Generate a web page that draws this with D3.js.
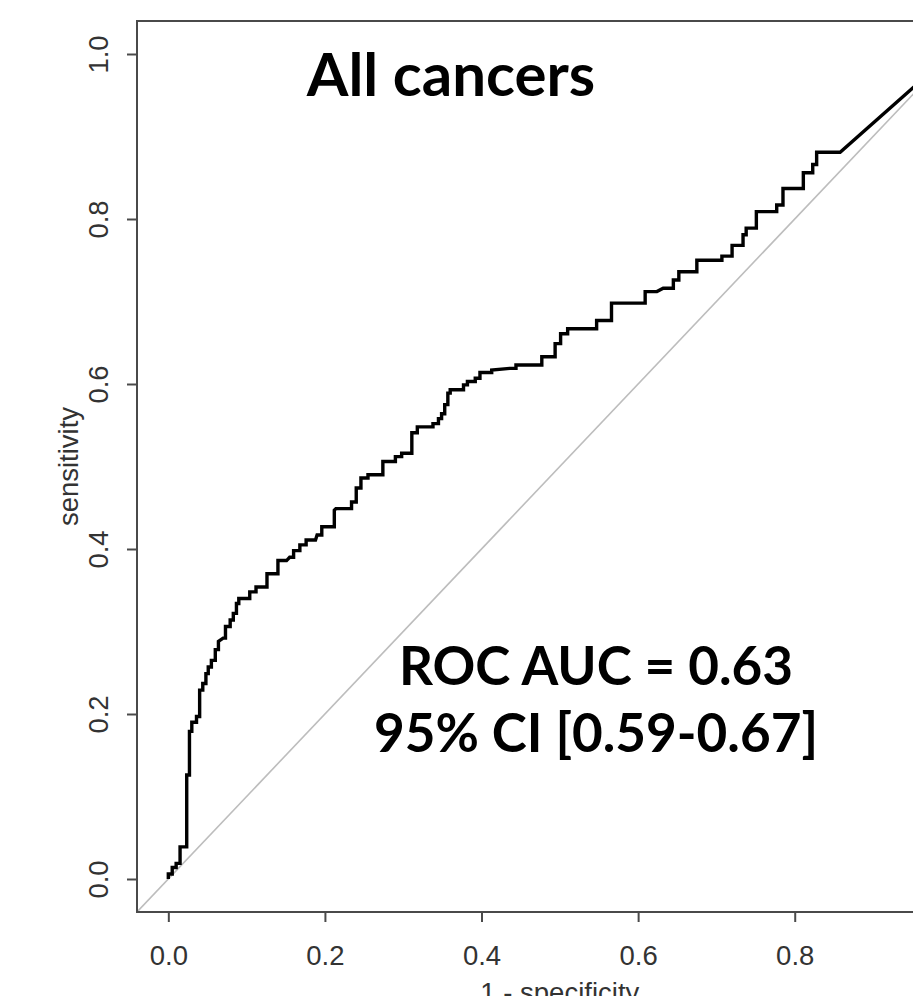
<!DOCTYPE html>
<html>
<head>
<meta charset="utf-8">
<script src="https://cdn.jsdelivr.net/npm/d3@7"></script>
<style>
  body { margin: 0; background: #fff; }
  svg { display: block; }
</style>
</head>
<body>
<div id="chart"></div>
<script>
// ROC curve vertices: 1 - specificity, sensitivity
var fpr = [0.000, 0.000, 0.005, 0.005, 0.010, 0.010, 0.015, 0.015, 0.0235, 0.0235,
  0.027, 0.027, 0.030, 0.030, 0.036, 0.036, 0.040, 0.040, 0.044, 0.044,
  0.048, 0.048, 0.051, 0.051, 0.055, 0.055, 0.060, 0.060, 0.064, 0.064,
  0.070, 0.073, 0.073, 0.079, 0.079, 0.083, 0.083, 0.087, 0.087, 0.090,
  0.090, 0.104, 0.104, 0.112, 0.112, 0.126, 0.126, 0.140, 0.140, 0.151,
  0.155, 0.160, 0.160, 0.168, 0.168, 0.176, 0.176, 0.188, 0.190, 0.196,
  0.196, 0.212, 0.212, 0.214, 0.234, 0.234, 0.240, 0.240, 0.246, 0.246,
  0.255, 0.255, 0.274, 0.274, 0.290, 0.290, 0.298, 0.298, 0.311, 0.311,
  0.318, 0.318, 0.338, 0.338, 0.345, 0.345, 0.349, 0.349, 0.353, 0.353,
  0.357, 0.357, 0.360, 0.360, 0.377, 0.377, 0.382, 0.382, 0.392, 0.392,
  0.398, 0.398, 0.413, 0.413, 0.436, 0.444, 0.444, 0.477, 0.477, 0.494,
  0.494, 0.501, 0.501, 0.510, 0.510, 0.547, 0.547, 0.566, 0.566, 0.609,
  0.609, 0.624, 0.632, 0.645, 0.645, 0.652, 0.652, 0.675, 0.675, 0.707,
  0.707, 0.720, 0.720, 0.734, 0.734, 0.738, 0.738, 0.751, 0.751, 0.777,
  0.777, 0.785, 0.785, 0.811, 0.811, 0.823, 0.823, 0.828, 0.828, 0.858,
  1.000];
var tpr = [0.000, 0.006, 0.006, 0.014, 0.014, 0.019, 0.019, 0.039, 0.039, 0.126,
  0.126, 0.179, 0.179, 0.190, 0.190, 0.197, 0.197, 0.229, 0.229, 0.237,
  0.237, 0.249, 0.249, 0.257, 0.257, 0.265, 0.265, 0.278, 0.278, 0.288,
  0.292, 0.292, 0.306, 0.306, 0.314, 0.314, 0.322, 0.322, 0.334, 0.334,
  0.340, 0.340, 0.348, 0.348, 0.354, 0.354, 0.370, 0.370, 0.386, 0.386,
  0.390, 0.390, 0.398, 0.398, 0.405, 0.405, 0.411, 0.411, 0.417, 0.417,
  0.427, 0.427, 0.447, 0.449, 0.449, 0.457, 0.457, 0.474, 0.474, 0.486,
  0.486, 0.490, 0.490, 0.506, 0.506, 0.512, 0.512, 0.516, 0.516, 0.541,
  0.541, 0.548, 0.548, 0.552, 0.552, 0.558, 0.558, 0.564, 0.564, 0.575,
  0.575, 0.589, 0.589, 0.593, 0.593, 0.599, 0.599, 0.603, 0.603, 0.607,
  0.607, 0.614, 0.614, 0.617, 0.619, 0.619, 0.623, 0.623, 0.633, 0.633,
  0.649, 0.649, 0.661, 0.661, 0.667, 0.667, 0.677, 0.677, 0.698, 0.698,
  0.712, 0.712, 0.716, 0.716, 0.726, 0.726, 0.736, 0.736, 0.750, 0.750,
  0.755, 0.755, 0.768, 0.768, 0.781, 0.781, 0.789, 0.789, 0.809, 0.809,
  0.817, 0.817, 0.837, 0.837, 0.856, 0.856, 0.866, 0.866, 0.881, 0.881,
  1.000];

// the 1.0 tick on the x axis falls outside the cropped picture
var x_ticks = [0.0, 0.2, 0.4, 0.6, 0.8];
var y_ticks = [0.0, 0.2, 0.4, 0.6, 0.8, 1.0];
var title_text = 'All cancers';
var auc_lines = ['ROC AUC = 0.63', '95% CI [0.59-0.67]'];

// setup SVG
var width = 913, height = 996;
var svg = d3.select('#chart').append('svg')
    .attr('width', width).attr('height', height);

// R pads the data range by 4% on each side
var x = d3.scaleLinear().domain([-0.04, 1.04]).range([137, 137 + 1.08 * 783]);
var y = d3.scaleLinear().domain([-0.04, 1.04]).range([912, 912 - 1.08 * 825]);

var axis_font = "'Liberation Sans', Arial, sans-serif";

// clip to plot box
svg.append('clipPath').attr('id', 'plotclip')
  .append('rect')
    .attr('x', x(-0.04)).attr('y', y(1.04))
    .attr('width', x(1.04) - x(-0.04)).attr('height', y(-0.04) - y(1.04));

var plot = svg.append('g').attr('clip-path', 'url(#plotclip)');

// chance diagonal
plot.append('line')
    .attr('x1', x(-0.04)).attr('y1', y(-0.04))
    .attr('x2', x(1.04)).attr('y2', y(1.04))
    .attr('stroke', '#bdbdbd').attr('stroke-width', 1.6);

// roc curve
var pts = fpr.map(function(d, i) { return [d, tpr[i]]; });
var line = d3.line()
    .x(function(d) { return x(d[0]); })
    .y(function(d) { return y(d[1]); });

plot.append('path')
    .datum(pts)
    .attr('d', line)
    .attr('fill', 'none')
    .attr('stroke', '#000')
    .attr('stroke-width', 3.4)
    .attr('stroke-linejoin', 'miter');

// box
svg.append('rect')
    .attr('x', x(-0.04)).attr('y', y(1.04))
    .attr('width', x(1.04) - x(-0.04)).attr('height', y(-0.04) - y(1.04))
    .attr('fill', 'none').attr('stroke', '#4a4a4a').attr('stroke-width', 2);

// x axis
var x_axis = svg.append('g')
    .attr('transform', 'translate(0,' + y(-0.04) + ')')
    .call(d3.axisBottom(x).tickValues(x_ticks).tickSize(10).tickPadding(23)
        .tickFormat(d3.format('.1f')));
x_axis.select('.domain').remove();
x_axis.selectAll('line').attr('stroke', '#4a4a4a').attr('stroke-width', 2);
x_axis.selectAll('text')
    .attr('fill', '#333')
    .attr('font-family', axis_font)
    .attr('font-size', '27.5px');

// y axis, labels turned like R's default las=0
var y_axis = svg.append('g')
    .attr('transform', 'translate(' + x(-0.04) + ',0)')
    .call(d3.axisLeft(y).tickValues(y_ticks).tickSize(10)
        .tickFormat(d3.format('.1f')));
y_axis.select('.domain').remove();
y_axis.selectAll('line').attr('stroke', '#4a4a4a').attr('stroke-width', 2);
y_axis.selectAll('text')
    .attr('x', 0).attr('y', 0).attr('dy', 0)
    .attr('text-anchor', 'middle')
    .attr('transform', 'translate(-29,0) rotate(-90)')
    .attr('fill', '#333')
    .attr('font-family', axis_font)
    .attr('font-size', '27.5px');

// axis titles
svg.append('text')
    .attr('x', (x(-0.04) + x(1.04)) / 2).attr('y', 1002)
    .attr('text-anchor', 'middle')
    .attr('fill', '#333')
    .attr('font-family', axis_font).attr('font-size', '27.5px')
    .text('1 - specificity');

svg.append('text')
    .attr('transform', 'translate(78,' + (y(-0.04) + y(1.04)) / 2 + ') rotate(-90)')
    .attr('text-anchor', 'middle')
    .attr('fill', '#333')
    .attr('font-family', axis_font).attr('font-size', '27.5px')
    .text('sensitivity');

// annotations
var note_font = "Lato, 'Open Sans', sans-serif";
svg.append('text')
    .attr('x', 451).attr('y', 96)
    .attr('text-anchor', 'middle')
    .attr('font-family', note_font).attr('font-weight', 'bold')
    .attr('font-size', '60px').attr('fill', '#000')
    .text(title_text);

svg.selectAll('.auc').data(auc_lines).enter().append('text')
    .attr('class', 'auc')
    .attr('x', 596)
    .attr('y', function(d, i) { return 685 + i * 67; })
    .attr('text-anchor', 'middle')
    .attr('font-family', note_font).attr('font-weight', 'bold')
    .attr('font-size', '53px').attr('fill', '#000')
    .text(function(d) { return d; });
</script>
</body>
</html>
